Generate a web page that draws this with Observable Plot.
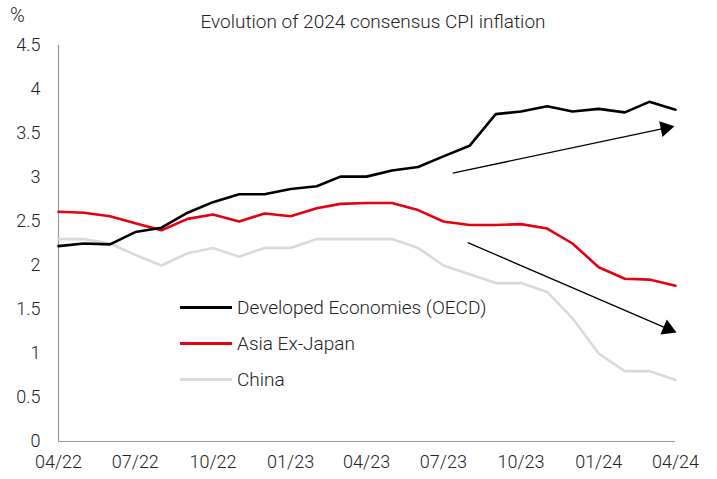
<!DOCTYPE html>
<html><head><meta charset="utf-8">
<script src="https://cdn.jsdelivr.net/npm/d3@7"></script>
<script src="https://cdn.jsdelivr.net/npm/@observablehq/plot@0.6"></script>
<style>
body{margin:0;background:#fff;font-family:Roboto,"Liberation Sans",sans-serif;font-weight:300;color:#222;}
#wrap{position:relative;width:717px;height:479px;}
#pct{position:absolute;left:10px;top:3px;font-size:20px;}
#title{position:absolute;left:373px;transform:translateX(-50%);top:10px;font-size:19px;white-space:nowrap;}
#chart{position:absolute;left:0;top:34px;}
#legend{position:absolute;left:180px;top:289px;font-size:19px;}
.row{height:36px;display:flex;align-items:center;}
.sw{width:52px;height:0;border-top:3px solid;margin-right:5px;}
</style></head>
<body>
<div id="wrap">
  <div id="pct">%</div>
  <div id="title">Evolution of 2024 consensus CPI inflation</div>
  <div id="chart"></div>
  <div id="legend"></div>
</div>
<script>
const months = ["2022-04","2022-05","2022-06","2022-07","2022-08","2022-09","2022-10","2022-11","2022-12",
  "2023-01","2023-02","2023-03","2023-04","2023-05","2023-06","2023-07","2023-08","2023-09","2023-10",
  "2023-11","2023-12","2024-01","2024-02","2024-03","2024-04"];
const developed = [2.22,2.25,2.24,2.38,2.43,2.60,2.72,2.81,2.81,2.87,2.90,3.01,3.01,3.08,3.12,3.24,3.36,3.72,3.75,3.81,3.75,3.78,3.74,3.86,3.77];
const asiaExJapan = [2.61,2.60,2.56,2.48,2.40,2.53,2.58,2.50,2.59,2.56,2.65,2.70,2.71,2.71,2.63,2.50,2.46,2.46,2.47,2.42,2.25,1.98,1.85,1.84,1.77];
const china = [2.30,2.30,2.25,2.12,2.00,2.14,2.20,2.10,2.20,2.20,2.30,2.30,2.30,2.30,2.20,2.00,1.90,1.80,1.80,1.70,1.40,1.00,0.80,0.80,0.70];
const seriesNames = ["Developed Economies (OECD)","Asia Ex-Japan","China"];
const seriesColors = ["#000000","#e60012","#d9d9d9"];
const xTicks = ["2022-04","2022-07","2022-10","2023-01","2023-04","2023-07","2023-10","2024-01","2024-04"];
const yTicks = [0,0.5,1,1.5,2,2.5,3,3.5,4,4.5];
// annotation arrows: start and arrowhead centre (date, value)
const arrowStart = [["2023-07-12",3.05],["2023-07-30",2.26]];
const arrowHead = [["2024-03-20",3.56],["2024-03-23",1.28]];

const parse = d3.utcParse("%Y-%m");
const parseD = d3.utcParse("%Y-%m-%d");
const data = [];
[developed, asiaExJapan, china].forEach((vals, s) => {
  vals.forEach((v, i) => data.push({date: parse(months[i]), value: v, series: seriesNames[s]}));
});
const W = 717, H = 445, mL = 58, mR = 42, mT = 11, mB = 38;
const xDomain = [parse(months[0]), parse(months[months.length-1])];
const xs = d3.scaleUtc(xDomain, [mL, W - mR]);
const ys = d3.scaleLinear([0, 4.5], [H - mB, mT]);
const arrows = arrowStart.map((s, i) => {
  const a = {x1: parseD(s[0]), y1: s[1], x2: parseD(arrowHead[i][0]), y2: arrowHead[i][1]};
  const dx = xs(a.x2) - xs(a.x1), dy = ys(a.y2) - ys(a.y1);
  a.angle = Math.atan2(dx, -dy) * 180 / Math.PI;
  return a;
});

const chart = Plot.plot({
  width: W, height: H,
  marginLeft: mL, marginRight: mR, marginTop: mT, marginBottom: mB,
  style: {fontFamily: "Roboto, 'Liberation Sans', sans-serif", fontSize: "18px", fontWeight: 300, color: "#222", background: "white"},
  x: {type: "utc", domain: xDomain, ticks: xTicks.map(parse), tickFormat: d3.utcFormat("%m/%y"), tickSize: 0, tickPadding: 14, label: null},
  y: {domain: [0, 4.5], ticks: yTicks, tickFormat: d => String(d), tickSize: 0, tickPadding: 18, label: null},
  color: {domain: seriesNames, range: seriesColors},
  marks: [
    Plot.ruleX([xDomain[0]], {stroke: "#999", strokeWidth: 1.2}),
    Plot.ruleY([0], {stroke: "#999", strokeWidth: 1.2}),
    Plot.line(data.filter(d => d.series === seriesNames[2]), {x: "date", y: "value", stroke: "series", strokeWidth: 2.6}),
    Plot.line(data.filter(d => d.series === seriesNames[1]), {x: "date", y: "value", stroke: "series", strokeWidth: 2.6}),
    Plot.line(data.filter(d => d.series === seriesNames[0]), {x: "date", y: "value", stroke: "series", strokeWidth: 2.6}),
    Plot.link(arrows, {x1: "x1", y1: "y1", x2: "x2", y2: "y2", stroke: "#000", strokeWidth: 1.3}),
    Plot.dot(arrows, {x: "x2", y: "y2", symbol: "triangle", r: 6, fill: "#000", stroke: "none", rotate: "angle"})
  ]
});
document.getElementById("chart").appendChild(chart);

const legend = document.getElementById("legend");
seriesNames.forEach((n, i) => {
  const row = document.createElement("div");
  row.className = "row";
  row.innerHTML = `<span class="sw" style="border-color:${seriesColors[i]}"></span><span>${n}</span>`;
  legend.appendChild(row);
});
</script>
</body></html>
